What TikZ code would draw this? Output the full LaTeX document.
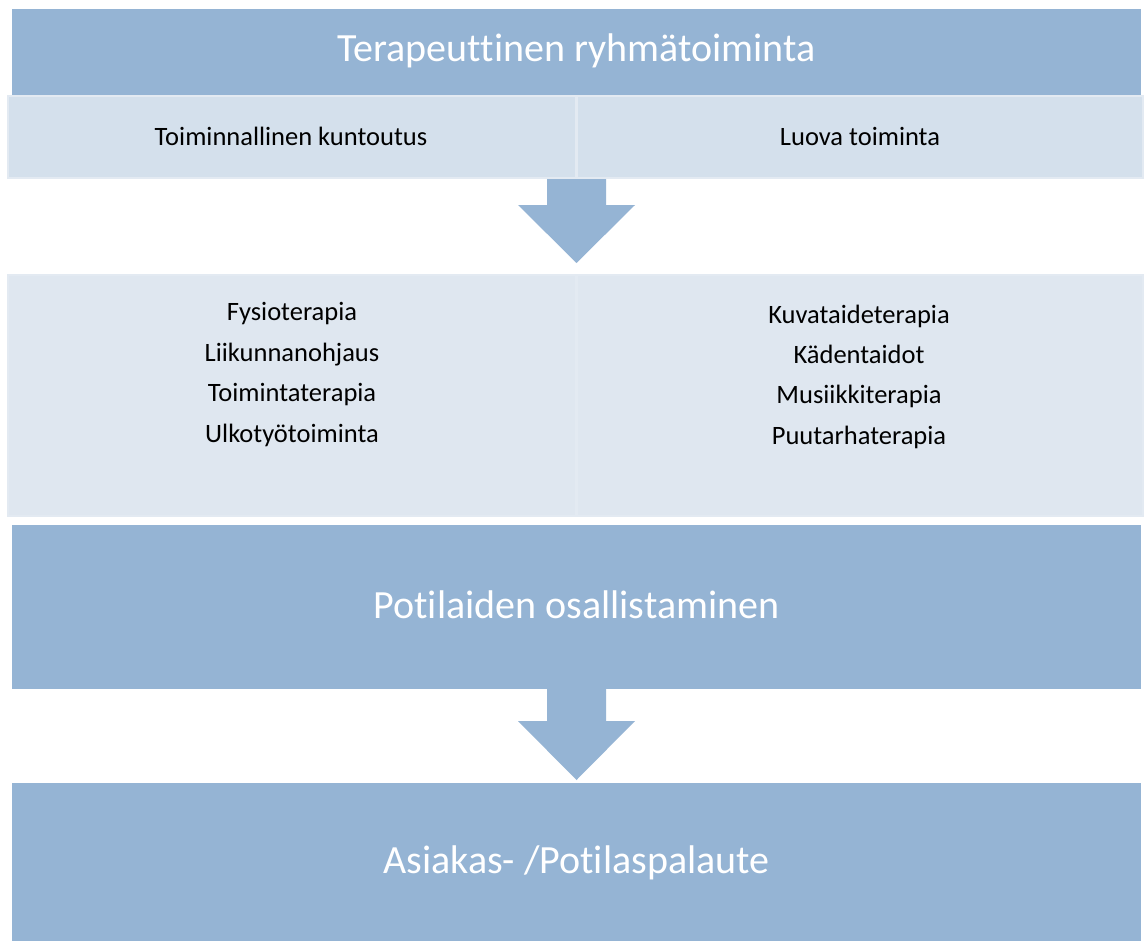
\documentclass[tikz,border=0pt]{standalone}
\usepackage{fontspec}
\setmainfont{Carlito}[Ligatures=NoCommon]
\definecolor{darkb}{HTML}{95B4D4}
\definecolor{row1}{HTML}{D4E0EC}
\definecolor{row2}{HTML}{DFE7F0}
\definecolor{edgeb}{HTML}{E3EAF2}
\begin{document}
\begin{tikzpicture}[x=1pt,y=-1pt,
  bar/.style={fill=darkb,draw=none,inner sep=0pt},
  cell1/.style={fill=row1,draw=edgeb,line width=1.5pt,inner sep=0pt},
  cell2/.style={fill=row2,draw=edgeb,line width=1.5pt,inner sep=0pt},
  big/.style={text=white,font=\fontsize{40}{48}\selectfont,anchor=base,inner sep=0pt},
  small/.style={text=black,font=\fontsize{26.5}{32}\selectfont,anchor=base,inner sep=0pt},
  blockarrow/.style={fill=darkb,draw=none}]
\useasboundingbox (0,0) rectangle (1144,942);
\fill[white] (0,0) rectangle (1144,942);
% top bar
\path[bar] (12,9) rectangle (1141,95);
\node[big] (t1) at (576.5,62) {Terapeuttinen ryhmätoiminta};
% row 1
\path[cell1] (8,96) rectangle (576,178);
\path[cell1] (577,96) rectangle (1143,178);
\node[small] (c1) at (291,145) {Toiminnallinen kuntoutus};
\node[small] (c2) at (860,145) {Luova toiminta};
% arrow 1
\path[blockarrow] (547,179) -- (606,179) -- (606,205) -- (635,205) -- (576.5,263) -- (518,205) -- (547,205) -- cycle;
% row 2
\path[cell2] (8,275) rectangle (576,516);
\path[cell2] (577,275) rectangle (1143,516);
\node[small] (l1) at (292,320) {Fysioterapia};
\node[small] (l2) at (292,361) {Liikunnanohjaus};
\node[small] (l3) at (292,401) {Toimintaterapia};
\node[small] (l4) at (292,442) {Ulkotyötoiminta};
\node[small] (r1) at (859,323) {Kuvataideterapia};
\node[small] (r2) at (859,363) {Kädentaidot};
\node[small] (r3) at (859,403) {Musiikkiterapia};
\node[small] (r4) at (859,444) {Puutarhaterapia};
% middle bar
\path[bar] (12,525) rectangle (1141,689);
\node[big] (t2) at (576.5,618) {Potilaiden osallistaminen};
% arrow 2
\path[blockarrow] (547,689) -- (606,689) -- (606,721) -- (635,721) -- (576.5,780) -- (518,721) -- (547,721) -- cycle;
% bottom bar
\path[bar] (12,783) rectangle (1141,941);
\node[big] (t3) at (576.5,873) {Asiakas- /Potilaspalaute};
\end{tikzpicture}
\end{document}
